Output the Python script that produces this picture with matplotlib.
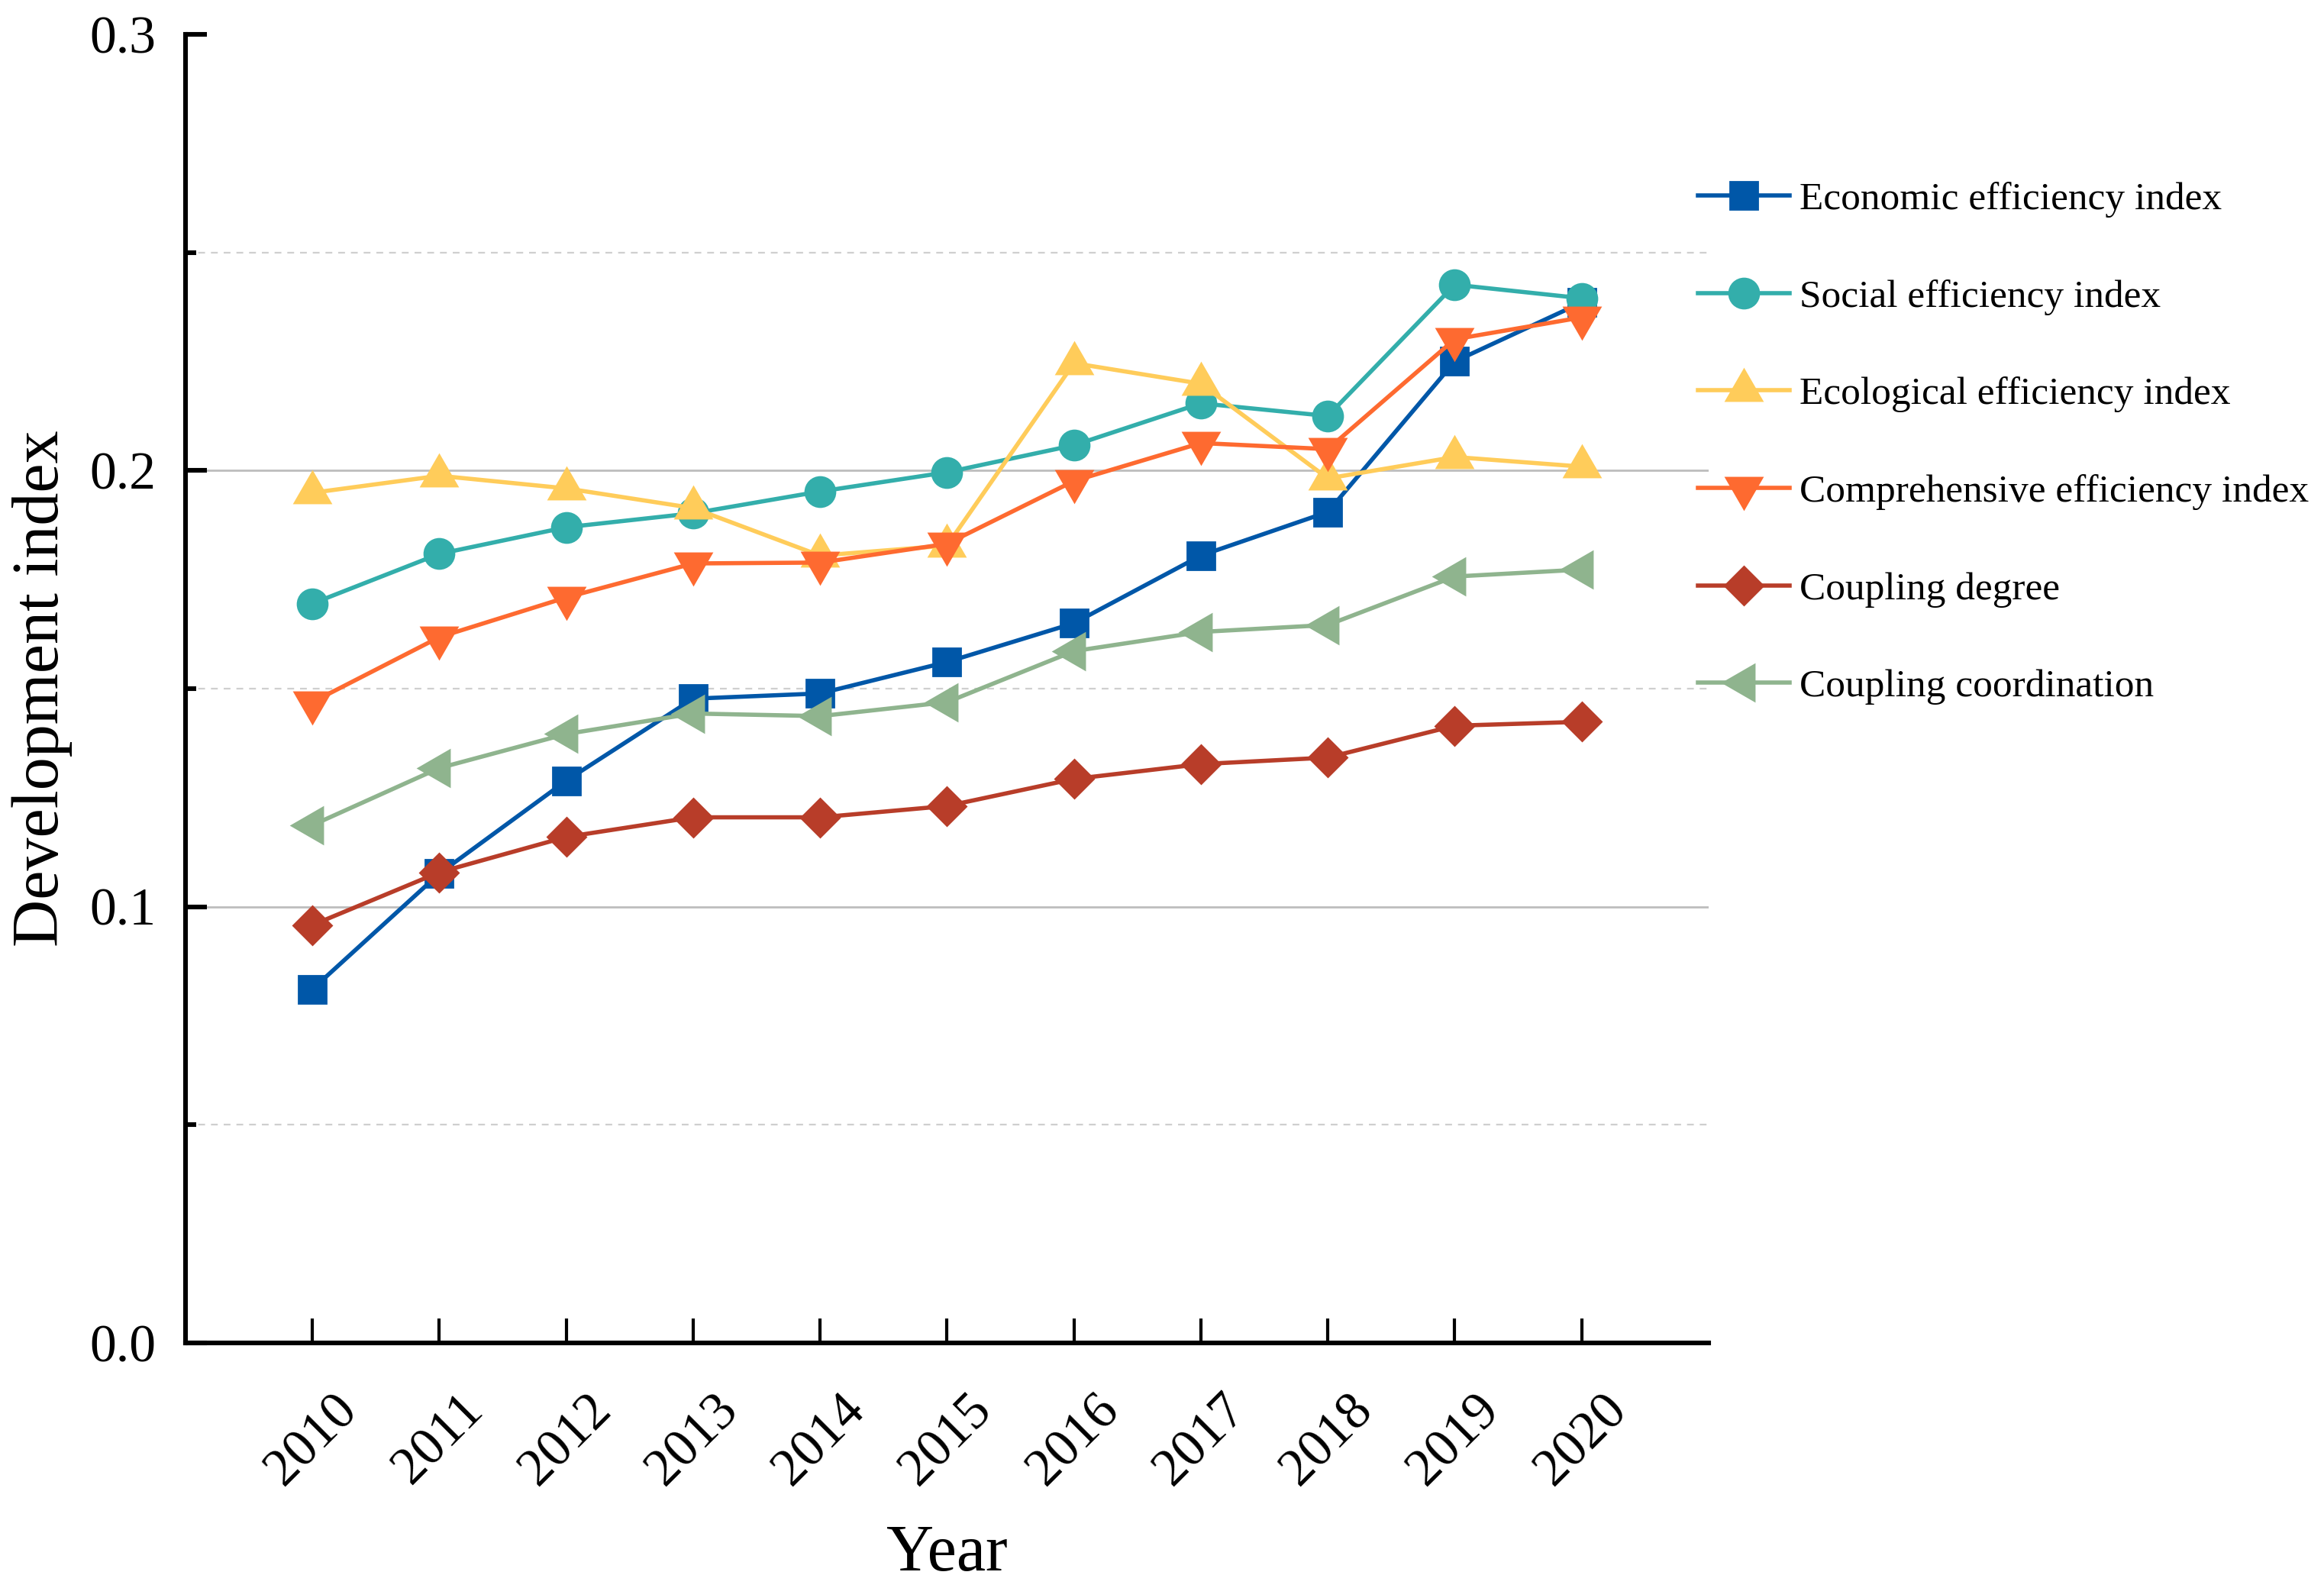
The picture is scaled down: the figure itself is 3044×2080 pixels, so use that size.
import matplotlib
matplotlib.use("Agg")
import matplotlib.pyplot as plt

years = [2010, 2011, 2012, 2013, 2014, 2015, 2016, 2017, 2018, 2019, 2020]

economic = [0.0811, 0.1076, 0.1289, 0.1477, 0.1489, 0.1561, 0.1650, 0.1805, 0.1905, 0.2250, 0.2385]
social = [0.1695, 0.1809, 0.1870, 0.1902, 0.1952, 0.1996, 0.2058, 0.2154, 0.2125, 0.2426, 0.2395]
ecological = [0.1949, 0.1988, 0.1959, 0.1914, 0.1805, 0.1828, 0.2246, 0.2199, 0.1982, 0.2031, 0.2009]
comprehensive = [0.1469, 0.1618, 0.1709, 0.1787, 0.1789, 0.1832, 0.1976, 0.2063, 0.2049, 0.2301, 0.2351]
coupling_degree = [0.0958, 0.1079, 0.1160, 0.1205, 0.1205, 0.1231, 0.1293, 0.1327, 0.1342, 0.1415, 0.1424]
coupling_coord = [0.1187, 0.1318, 0.1396, 0.1443, 0.1437, 0.1469, 0.1586, 0.1630, 0.1646, 0.1757, 0.1773]

series_names = [
    "Economic efficiency index",
    "Social efficiency index",
    "Ecological efficiency index",
    "Comprehensive efficiency index",
    "Coupling degree",
    "Coupling coordination",
]

y_major = [0.0, 0.1, 0.2, 0.3]
y_minor = [0.05, 0.15, 0.25]
y_labels = ["0.0", "0.1", "0.2", "0.3"]

plt.rcParams["font.family"] = ["Liberation Serif", "DejaVu Serif"]

fig = plt.figure(figsize=(15.22, 10.40), dpi=200)
ax = fig.add_axes([0.0798, 0.1543, 0.6554, 0.8241])

# grid lines (solid on majors, dashed on minors), none at 0 and 0.3
for v in y_major[1:-1]:
    ax.axhline(v, color="#BDBDBD", lw=1.0, zorder=0)
for v in y_minor:
    ax.axhline(v, color="#CFCFCF", lw=0.8, dashes=(4, 3.5), zorder=0)

styles = [
    dict(color="#0057A8", marker="s", ms=13),
    dict(color="#33AEAB", marker="o", ms=14),
    dict(color="#FFCC5A", marker=(3, 0, 0), ms=19.5),
    dict(color="#FE6A30", marker=(3, 0, 180), ms=19.5),
    dict(color="#B83D29", marker="D", ms=12.5),
    dict(color="#8FB48E", marker=(3, 0, 90), ms=19.5),
]
data = [economic, social, ecological, comprehensive, coupling_degree, coupling_coord]

for values, name, st in zip(data, series_names, styles):
    ax.plot(years, values, color=st["color"], marker=st["marker"], ms=st["ms"],
            mec=st["color"], mfc=st["color"], lw=2.0, label=name, zorder=3)

ax.set_xlim(2009, 2021)
ax.set_ylim(0, 0.3)

ax.spines["top"].set_visible(False)
ax.spines["right"].set_visible(False)
ax.spines["left"].set_linewidth(2.2)
ax.spines["bottom"].set_linewidth(2.2)

ax.set_xticks(years)
ax.set_xticklabels([str(y) for y in years], rotation=45, ha="center")
ax.set_yticks(y_major)
ax.set_yticklabels(y_labels)
ax.set_yticks(y_minor, minor=True)

ax.tick_params(axis="x", which="major", direction="in", length=11.5, width=1.5,
               labelsize=25, pad=20)
ax.tick_params(axis="y", which="major", direction="in", length=10, width=2.2,
               labelsize=25, pad=14)
ax.tick_params(axis="y", which="minor", direction="in", length=5, width=2.2)

ax.set_xlabel("Year", fontsize=31, labelpad=14)
ax.set_ylabel("Development index", fontsize=31, labelpad=8)

ax.legend(loc="upper left", bbox_to_anchor=(0.7306, 0.8855),
          bbox_transform=fig.transFigure, frameon=False, fontsize=18.5,
          borderpad=0, borderaxespad=0, handlelength=2.34, handletextpad=0.25,
          labelspacing=1.57)

fig.savefig("out.png", dpi=200)
